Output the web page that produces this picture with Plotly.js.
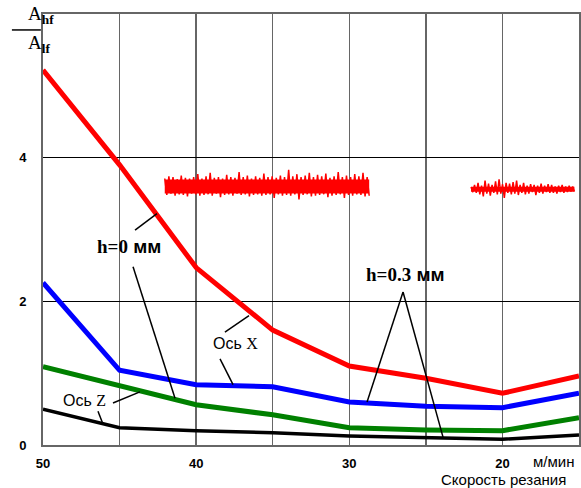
<!DOCTYPE html>
<html>
<head>
<meta charset="utf-8">
<script src="https://cdn.plot.ly/plotly-3.0.1.min.js"></script>
<style>html,body{margin:0;padding:0;background:#fff;}#chart{width:581px;height:488px;}</style>
</head>
<body>
<div id="chart"></div>
<script>
// Cutting speed, m/min
const speeds = [50, 45, 40, 35, 30, 25, 20, 15];
// A_hf / A_lf ratio
const xAxisH0   = [5.22, 3.90, 2.47, 1.60, 1.10, 0.93, 0.72, 0.96]; // red
const xAxisH03  = [2.26, 1.04, 0.84, 0.81, 0.60, 0.54, 0.52, 0.72]; // blue
const zAxisH0   = [1.09, 0.82, 0.56, 0.42, 0.24, 0.21, 0.20, 0.38]; // green
const zAxisH03  = [0.50, 0.24, 0.20, 0.17, 0.125, 0.10, 0.08, 0.14]; // black

const xTickVals = [50, 40, 30, 20];
const xTickText = ['50', '40', '30', '20'];
const xMinorGrid = [45, 35, 25, 15];
const yTickVals = [0, 2, 4];
const yTickText = ['0', '2', '4'];

// inset signal records (deviation from centre level)
const signal1Span = [42.05, 28.7];
const signal1Level = 3.60;
const signal1Dev = [0.11,-0.12,0.14,-0.10,0.13,-0.13,0.10,-0.11,0.15,-0.12,0.12,-0.14,0.11,-0.10,0.13,-0.11,0.17,-0.13,0.11,-0.12,0.14,-0.11,0.19,-0.13,0.12,-0.10,0.13,-0.15,0.11,-0.12,0.16,-0.11,0.13,-0.13,0.12,-0.10,0.20,-0.12,0.13,-0.11,0.15,-0.14,0.11,-0.12,0.14,-0.11,0.12,-0.13,0.18,-0.12,0.13,-0.11,0.14,-0.16,0.12,-0.11,0.15,-0.13,0.13,-0.12,0.23,-0.13,0.14,-0.11,0.17,-0.18,0.13,-0.12,0.15,-0.11,0.19,-0.14,0.13,-0.13,0.16,-0.12,0.14,-0.11,0.18,-0.15,0.12,-0.13,0.14,-0.12,0.20,-0.11,0.13,-0.16,0.15,-0.12,0.13,-0.13,0.17,-0.11,0.14,-0.12,0.19,-0.14,0.13,-0.13];
const signal2Span = [22.05, 15.3];
const signal2Level = 3.56;
const signal2Dev = [0.03,-0.04,0.06,-0.05,0.09,-0.07,0.05,-0.10,0.12,-0.06,0.08,-0.09,0.06,-0.05,0.11,-0.07,0.14,-0.06,0.07,-0.12,0.09,-0.05,0.08,-0.07,0.10,-0.06,0.12,-0.08,0.06,-0.05,0.09,-0.07,0.05,-0.06,0.07,-0.04,0.06,-0.08,0.05,-0.05,0.08,-0.06,0.05,-0.04,0.07,-0.05,0.06,-0.05,0.04,-0.06,0.05,-0.04,0.06,-0.05,0.04,-0.04,0.05,-0.03,0.04,-0.03];

function signalTraces(span, level, dev, coreWidth) {
  const n = dev.length;
  const xs = dev.map((_, i) => span[0] + (span[1] - span[0]) * i / (n - 1));
  const ys = dev.map(d => level + d);
  return [
    {x: span, y: [level, level], mode: 'lines', line: {color: '#ff0000', width: coreWidth}, hoverinfo: 'skip', showlegend: false},
    {x: xs, y: ys, mode: 'lines', line: {color: '#ff0000', width: 1.5}, hoverinfo: 'skip', showlegend: false}
  ];
}

const traces = [
  ...signalTraces(signal1Span, signal1Level, signal1Dev, 14),
  ...signalTraces(signal2Span, signal2Level, signal2Dev, 5),
  {x: speeds, y: zAxisH03, mode: 'lines', line: {color: '#000000', width: 3.5}, showlegend: false},
  {x: speeds, y: zAxisH0, mode: 'lines', line: {color: '#008000', width: 5}, showlegend: false},
  {x: speeds, y: xAxisH03, mode: 'lines', line: {color: '#0000ff', width: 5}, showlegend: false},
  {x: speeds, y: xAxisH0, mode: 'lines', line: {color: '#ff0000', width: 5}, showlegend: false}
];

function seg(x0, y0, x1, y1) {
  return {type: 'line', xref: 'x', yref: 'y', x0: x0, y0: y0, x1: x1, y1: y1, line: {color: '#000', width: 1.5}};
}

const serif = 'Liberation Serif, Times New Roman, serif';
const sans = 'Liberation Sans, Arial, sans-serif';

const layout = {
  width: 581, height: 488,
  margin: {l: 43, r: 2, t: 14, b: 43},
  paper_bgcolor: '#fff', plot_bgcolor: '#fff',
  showlegend: false,
  xaxis: {
    range: [50, 15], tickvals: xTickVals, ticktext: xTickText,
    showgrid: true, gridcolor: '#666', gridwidth: 1.5,
    minor: {tickvals: xMinorGrid, showgrid: true, gridcolor: '#666', gridwidth: 1.5, ticks: ''},
    showline: true, linecolor: '#666', linewidth: 2, mirror: true,
    zeroline: false, ticks: '', ticklabelstandoff: 5,
    tickfont: {family: sans, size: 13, color: '#000', weight: 'bold'}
  },
  yaxis: {
    range: [0, 6], tickvals: yTickVals, ticktext: yTickText,
    showgrid: true, gridcolor: '#000', gridwidth: 1,
    showline: true, linecolor: '#666', linewidth: 2, mirror: true,
    zeroline: false, ticks: '', ticklabelstandoff: 12,
    tickfont: {family: sans, size: 13, color: '#000', weight: 'bold'}
  },
  shapes: [
    seg(43.99, 2.99, 42.56, 3.22),
    seg(44.12, 2.48, 41.38, 0.65),
    seg(28.84, 0.60, 26.49, 2.13),
    seg(26.49, 2.13, 23.88, 0.11),
    seg(38.12, 1.57, 36.55, 1.80),
    seg(38.44, 1.20, 37.59, 0.84),
    seg(45.43, 0.585, 43.67, 0.74),
    seg(46.41, 0.47, 46.08, 0.29),
    {type: 'line', xref: 'paper', yref: 'paper', x0: -0.058, x1: -0.004, y0: 0.963, y1: 0.963, line: {color: '#000', width: 1.5}}
  ],
  annotations: [
    {xref: 'x', yref: 'y', x: 44.38, y: 2.76, showarrow: false,
     text: '<span style="font-family:Liberation Serif">h=0</span> мм', font: {family: sans, size: 19, color: '#000', weight: 'bold'}},
    {xref: 'x', yref: 'y', x: 26.30, y: 2.37, showarrow: false,
     text: '<span style="font-family:Liberation Serif">h=0.3</span> мм', font: {family: sans, size: 19, color: '#000', weight: 'bold'}},
    {xref: 'x', yref: 'y', x: 37.46, y: 1.42, showarrow: false,
     text: 'Ось <span style="font-family:Liberation Serif">X</span>', font: {family: sans, size: 16, color: '#000'}},
    {xref: 'x', yref: 'y', x: 47.26, y: 0.613, showarrow: false,
     text: 'Ось <span style="font-family:Liberation Serif">Z</span>', font: {family: sans, size: 16, color: '#000'}},
    {xref: 'paper', yref: 'paper', x: -0.032, y: 0.966, yanchor: 'bottom', showarrow: false,
     text: 'A<sub><b>hf</b></sub>', font: {family: serif, size: 19, color: '#000'}},
    {xref: 'paper', yref: 'paper', x: -0.032, y: 0.962, yanchor: 'top', showarrow: false,
     text: 'A<sub><b>lf</b></sub>', font: {family: serif, size: 19, color: '#000'}},
    {xref: 'paper', yref: 'paper', x: 0.995, y: -0.039, showarrow: false, xanchor: 'right', yanchor: 'middle',
     text: 'м/мин', font: {family: sans, size: 15, color: '#000'}},
    {xref: 'paper', yref: 'paper', x: 0.86, y: -0.081, showarrow: false, xanchor: 'center', yanchor: 'middle',
     text: 'Скорость резания', font: {family: sans, size: 15, color: '#000'}}
  ]
};

Plotly.newPlot('chart', traces, layout, {displayModeBar: false, staticPlot: true});
</script>
</body>
</html>
